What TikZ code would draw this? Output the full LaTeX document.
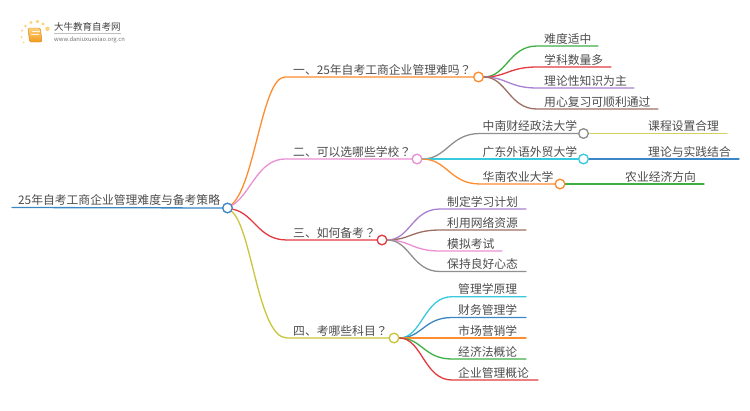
\documentclass[tikz,border=0pt]{standalone}
\usepackage{fontspec}
\setmainfont{Noto Sans CJK SC}
\newfontfamily\qfont{Noto Sans CJK TC}
\newcommand{\qm}{{\qfont ？}}
\definecolor{cBlue}{HTML}{3B86C4}
\definecolor{cOrange}{HTML}{FF8C2E}
\definecolor{cPink}{HTML}{E98FD2}
\definecolor{cRed}{HTML}{E23B3F}
\definecolor{cOlive}{HTML}{C9C53C}
\definecolor{cGreen}{HTML}{3FAF45}
\definecolor{cPurple}{HTML}{A97FD2}
\definecolor{cBrown}{HTML}{9C6F62}
\definecolor{cGray}{HTML}{8F8F8F}
\definecolor{cCyan}{HTML}{38C9DC}
\definecolor{cYellow}{HTML}{D4D162}
\definecolor{cDot}{HTML}{FBD27A}
\definecolor{cBook}{HTML}{F59A1C}
\tikzset{
  lab/.style={anchor=base west,inner sep=0pt,text=black!70,font=\fontsize{11.8}{12}\selectfont},
  hub/.style={circle,draw=#1,fill=white,line width=1.2pt,minimum size=9.5pt,inner sep=0pt},
  wire/.style={draw=#1,line width=1.3pt,line cap=round}
}
\begin{document}
\begin{tikzpicture}[x=1pt,y=-1pt]
\useasboundingbox (0,0) rectangle (750,410);
% logo
\foreach \i/\px/\py/\s in {a/25.5/26/2.6,b/22/30.5/2.4,c/21.5/37/2,d/31/22.5/3.4,e/37.5/21.5/3.8,f/43/24/3.4,g/47.5/28.8/4.4,h/23.5/42.5/1.6}
  \node[circle,fill=cDot,inner sep=0pt,minimum size=\s pt] (dot\i) at (\px,\py) {};
\node[draw=cBook!85!black,line width=.4pt,top color=cDot,bottom color=cBook,rounded corners=1.5pt,minimum width=12.5pt,minimum height=14pt,inner sep=0pt,xslant=-0.12] (book) at (35,35) {};
\node[fill=white,minimum width=8pt,minimum height=.9pt,inner sep=0pt,opacity=.8] (bookl1) at (35.5,31.5) {};
\node[fill=white,minimum width=8pt,minimum height=.9pt,inner sep=0pt,opacity=.8] (bookl2) at (35.2,34.5) {};
\node[anchor=base west,inner sep=0pt,text=black!75,font=\fontsize{9.5}{10}\selectfont] (logot) at (54,30.5) {大牛教育自考网};
\node[anchor=base west,inner sep=0pt,text=black!55,font=\fontsize{5.85}{6}\selectfont] (logou) at (54,41) {www.daniuxuexiao.org.cn};
\coordinate (logoa) at (54,33.5); \coordinate (logob) at (121,33.5);
\draw[black!25,line width=.5pt] (logoa) -- (logob);

% hubs
\coordinate (rootS) at (12,207.5);
\node[hub=cBlue] (root) at (227.5,208) {};
\node[hub=cOrange] (h1) at (478.5,77) {};
\node[hub=cPink] (h2) at (417,159) {};
\node[hub=cRed] (h3) at (382,240) {};
\node[hub=cOlive] (h4) at (394,338) {};
\node[hub=cGray] (k1) at (583.5,133.5) {};
\node[hub=cCyan] (k2) at (583.5,159) {};
\node[hub=cOrange] (k3) at (560,184) {};

% coordinates
\foreach \n/\x/\y in {e1/285/77,e2/285/159,e3/287/240,e4/287/338,
  a1/537/46,a2/537/67,a3/537/88,a4/537/109,
  ae1/598/46,ae2/611/67,ae3/634/88,ae4/658/109,
  b1/480/133.5,b2/480/159,b3/480/184,
  c1/727/133.5,c2/739/159,c3/704/184,
  d1/440/209,d2/440/230,d3/440/251,d4/440/271.5,
  de1/526/209,de2/526/230,de3/502/251,de4/526/271.5,
  f1/452/296.7,f2/452/317.5,f3/452/338,f4/452/359,f5/452/380,
  fe1/526/296.7,fe2/526/317.5,fe3/526/338,fe4/526/359,fe5/538/380}
  \coordinate (\n) at (\x,\y);

\draw[wire=cBlue] (rootS) -- (root);
\draw[wire=cOrange] (root) .. controls (255,185) and (262,77) .. (e1) -- (h1);
\draw[wire=cPink] (root) .. controls (250,195) and (258,159) .. (e2) -- (h2);
\draw[wire=cRed] (root) .. controls (255,214) and (258,240) .. (e3) -- (h3);
\draw[wire=cOlive] (root) .. controls (252,228) and (258,338) .. (e4) -- (h4);

\draw[wire=cGreen] (h1) .. controls +(28,0) and +(-28,0) .. (a1) -- (ae1);
\draw[wire=cRed] (h1) .. controls +(28,0) and +(-28,0) .. (a2) -- (ae2);
\draw[wire=cPurple] (h1) .. controls +(28,0) and +(-28,0) .. (a3) -- (ae3);
\draw[wire=cBrown] (h1) .. controls +(28,0) and +(-28,0) .. (a4) -- (ae4);

\draw[wire=cGray] (h2) .. controls +(30,0) and +(-30,0) .. (b1) -- (k1);
\draw[wire=cCyan] (h2) -- (b2) -- (k2);
\draw[wire=cOrange] (h2) .. controls +(30,0) and +(-30,0) .. (b3) -- (k3);
\draw[wire=cYellow] (k1) -- (c1);
\draw[wire=cBlue] (k2) -- (c2);
\draw[wire=cGreen] (k3) -- (c3);

\draw[wire=cPurple] (h3) .. controls +(28,0) and +(-28,0) .. (d1) -- (de1);
\draw[wire=cBrown] (h3) .. controls +(28,0) and +(-28,0) .. (d2) -- (de2);
\draw[wire=cPink] (h3) .. controls +(28,0) and +(-28,0) .. (d3) -- (de3);
\draw[wire=cGray] (h3) .. controls +(28,0) and +(-28,0) .. (d4) -- (de4);

\draw[wire=cCyan] (h4) .. controls +(28,0) and +(-28,0) .. (f1) -- (fe1);
\draw[wire=cBlue] (h4) .. controls +(28,0) and +(-28,0) .. (f2) -- (fe2);
\draw[wire=cOrange] (h4) -- (f3) -- (fe3);
\draw[wire=cGreen] (h4) .. controls +(28,0) and +(-28,0) .. (f4) -- (fe4);
\draw[wire=cRed] (h4) .. controls +(28,0) and +(-28,0) .. (f5) -- (fe5);

% labels
\foreach \n/\x/\y/\t in {
  lr/18/204.5/25年自考工商企业管理难度与备考策略,
  l1/293/74/一、25年自考工商企业管理难吗\qm,
  l2/293/156/二、可以选哪些学校\qm,
  l3/293/237/三、如何备考\qm,
  l4/293/335/四、考哪些科目\qm,
  la1/544/43/难度适中,
  la2/544/64/学科数量多,
  la3/544/85/理论性知识为主,
  la4/544/106/用心复习可顺利通过,
  lb1/482.5/130.5/中南财经政法大学,
  lb2/482.5/156/广东外语外贸大学,
  lb3/482.5/181/华南农业大学,
  lc1/648/130.5/课程设置合理,
  lc2/648/156/理论与实践结合,
  lc3/625/181/农业经济方向,
  ld1/447/206/制定学习计划,
  ld2/447/227/利用网络资源,
  ld3/447/248/模拟考试,
  ld4/447/268.5/保持良好心态,
  lf1/458/293.7/管理学原理,
  lf2/458/314.5/财务管理学,
  lf3/458/335/市场营销学,
  lf4/458/356/经济法概论,
  lf5/458/377/企业管理概论}
  \node[lab] (\n) at (\x,\y) {\t};

% hubs drawn over the wires
\foreach \n/\c/\x/\y in {root/cBlue/227.5/208,h1/cOrange/478.5/77,h2/cPink/417/159,h3/cRed/382/240,h4/cOlive/394/338,k1/cGray/583.5/133.5,k2/cCyan/583.5/159,k3/cOrange/560/184}
  \node[hub=\c] (\n top) at (\x,\y) {};
\end{tikzpicture}
\end{document}
